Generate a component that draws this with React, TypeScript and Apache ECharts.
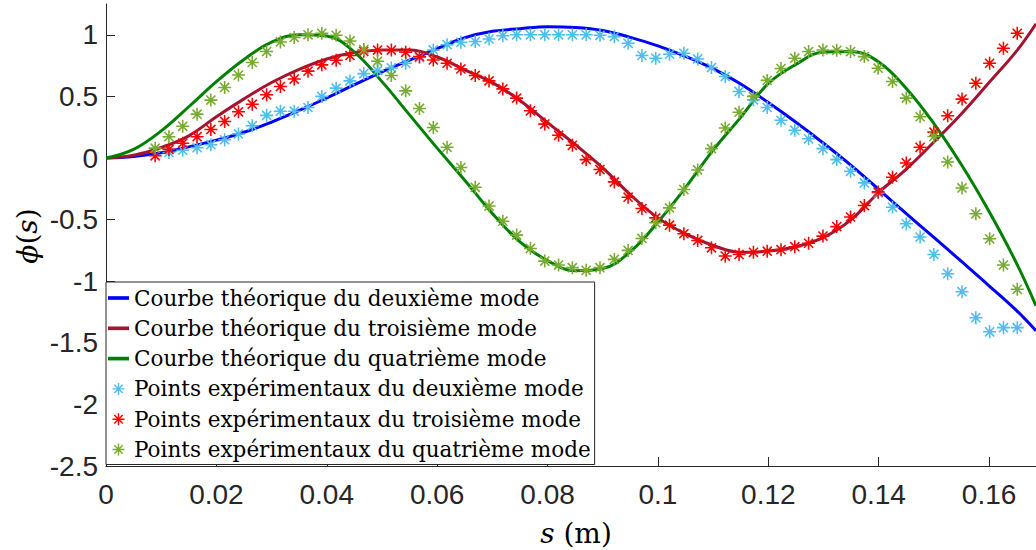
import { useEffect, useRef } from "react";
import * as echarts from "echarts";

const S_THEORY = [
  0, 0.005, 0.01, 0.015, 0.02, 0.025, 0.03, 0.035, 0.04, 0.045, 0.05, 0.055, 0.06, 0.065, 0.07, 0.075,
  0.08, 0.085, 0.09, 0.095, 0.1, 0.105, 0.11, 0.115, 0.12, 0.125, 0.13, 0.135, 0.14, 0.145, 0.15, 0.155,
  0.16, 0.165, 0.1685,
];
const PHI_MODE2 = [
  0, 0.012, 0.042, 0.09, 0.145, 0.209, 0.292, 0.386, 0.487, 0.595, 0.7, 0.794, 0.888, 0.976, 1.028, 1.05,
  1.066, 1.06, 1.035, 0.979, 0.91, 0.825, 0.725, 0.6, 0.45, 0.29, 0.12, -0.06, -0.255, -0.452, -0.645, -0.84,
  -1.037, -1.239, -1.403,
];
const PHI_MODE3 = [
  0, 0.022, 0.085, 0.18, 0.335, 0.48, 0.613, 0.72, 0.804, 0.856, 0.877, 0.877, 0.82, 0.716, 0.612, 0.467,
  0.287, 0.11, -0.08, -0.298, -0.486, -0.616, -0.71, -0.765, -0.755, -0.72, -0.645, -0.5, -0.28, -0.09, 0.13,
  0.36, 0.613, 0.87, 1.09,
];
const PHI_MODE4 = [
  0, 0.07, 0.22, 0.416, 0.62, 0.8, 0.94, 1.0, 0.99, 0.86, 0.62, 0.35, 0.08, -0.18, -0.45, -0.68, -0.833,
  -0.915, -0.897, -0.76, -0.52, -0.24, 0.064, 0.33, 0.605, 0.76, 0.86, 0.865, 0.78, 0.565, 0.28, -0.055,
  -0.435, -0.857, -1.2,
];

// Experimental points: measurement abscissae (m) and measured values
const S_EXP = [
  0.0089, 0.0114, 0.0139, 0.0165, 0.019, 0.0215, 0.024, 0.0265, 0.0291, 0.0316, 0.0341, 0.0366, 0.0391,
  0.0417, 0.0442, 0.0467, 0.0492, 0.0517, 0.0543, 0.0568, 0.0593, 0.0618, 0.0643, 0.0669, 0.0694, 0.0719,
  0.0744, 0.0769, 0.0795, 0.082, 0.0845, 0.087, 0.0895, 0.0921, 0.0946, 0.0971, 0.0996, 0.1021, 0.1047,
  0.1072, 0.1097, 0.1122, 0.1147, 0.1173, 0.1198, 0.1223, 0.1248, 0.1273, 0.1299, 0.1324, 0.1349, 0.1374,
  0.1399, 0.1425, 0.145, 0.1475, 0.15, 0.1525, 0.1551, 0.1576, 0.1601, 0.1626, 0.1651,
];
const EXP_MODE2 = [
  null, 0.045, 0.063, 0.084, 0.108, 0.148, 0.195, 0.262, 0.346, 0.38, 0.38, 0.41, 0.5, 0.567, 0.626, 0.685,
  0.71, 0.731, 0.769, 0.815, 0.877, 0.92, 0.939, 0.945, 0.966, 0.993, 1.0, 1.0, 1.0, 1.0, 1.0, 1.0, 0.996,
  0.985, 0.931, 0.832, 0.81, 0.842, 0.85, 0.804, 0.734, 0.661, 0.54, 0.472, 0.41, 0.306, 0.226, 0.156, 0.076,
  -0.013, -0.108, -0.202, -0.283, -0.4, -0.534, -0.642, -0.783, -0.939, -1.085, -1.296, -1.411, -1.377, -1.377,
];
const EXP_MODE3 = [
  0.018, 0.07, 0.12, 0.173, 0.232, 0.297, 0.375, 0.437, 0.513, 0.58, 0.641, 0.705, 0.756, 0.794, 0.832, 0.866,
  0.876, 0.876, 0.858, 0.823, 0.796, 0.769, 0.723, 0.67, 0.626, 0.561, 0.486, 0.383, 0.275, 0.184, 0.103,
  -0.013, -0.094, -0.194, -0.318, -0.41, -0.486, -0.545, -0.615, -0.669, -0.729, -0.796, -0.783, -0.766,
  -0.756, -0.744, -0.72, -0.692, -0.634, -0.557, -0.479, -0.386, -0.275, -0.156, -0.04, 0.087, 0.21, 0.343,
  0.478, 0.607, 0.769, 0.891, 1.012,
];
const EXP_MODE4 = [
  0.08, 0.173, 0.257, 0.356, 0.47, 0.573, 0.673, 0.775, 0.864, 0.942, 0.978, 1.0, 1.012, 0.996, 0.95, 0.88,
  0.785, 0.67, 0.545, 0.402, 0.248, 0.087, -0.077, -0.238, -0.39, -0.513, -0.626, -0.734, -0.837, -0.869,
  -0.89, -0.912, -0.89, -0.823, -0.75, -0.653, -0.526, -0.405, -0.256, -0.097, 0.076, 0.243, 0.372, 0.5, 0.63,
  0.726, 0.81, 0.864, 0.877, 0.874, 0.864, 0.823, 0.729, 0.621, 0.486, 0.335, 0.175, -0.032, -0.243, -0.453,
  -0.656, -0.869, -1.066,
];

const X_TICKS = [0, 0.02, 0.04, 0.06, 0.08, 0.1, 0.12, 0.14, 0.16];
const Y_TICKS = [-2.5, -2, -1.5, -1, -0.5, 0, 0.5, 1];

const NAMES = [
  "Courbe théorique du deuxième mode",
  "Courbe théorique du troisième mode",
  "Courbe théorique du quatrième mode",
  "Points expérimentaux du deuxième mode",
  "Points expérimentaux du troisième mode",
  "Points expérimentaux du quatrième mode",
];
const LINE_COLORS = ["#0000FF", "#A2142F", "#008000"];
const POINT_COLORS = ["#4DBEEE", "#FF0000", "#77AC30"];

const ASTERISK =
  "path://M-0.12,-1L0.12,-1L0.12,1L-0.12,1Z M-1,-0.12L1,-0.12L1,0.12L-1,0.12Z " +
  "M-0.615,-0.785L0.785,0.615L0.615,0.785L-0.785,-0.615Z M-0.785,0.615L0.615,-0.785L0.785,-0.615L-0.615,0.785Z";
const LINE_ICON = "path://M0,0L23,0L23,4L0,4Z";

const AXIS_COLOR = "#262626";

function pairs(xs: number[], ys: (number | null)[]) {
  const out: [number, number][] = [];
  xs.forEach((x, i) => {
    const y = ys[i];
    if (y !== null && y !== undefined) out.push([x, y]);
  });
  return out;
}

export default function App() {
  const ref = useRef<HTMLDivElement>(null);
  useEffect(() => {
    if (!ref.current) return;
    const chart = echarts.init(ref.current, undefined, { renderer: "svg" });
    const theory = [PHI_MODE2, PHI_MODE3, PHI_MODE4];
    const exp = [EXP_MODE2, EXP_MODE3, EXP_MODE4];
    const series: any[] = [];
    theory.forEach((ys, i) => {
      series.push({
        name: NAMES[i],
        type: "line",
        data: pairs(S_THEORY, ys),
        smooth: 0.4,
        symbol: "none",
        showSymbol: false,
        lineStyle: { width: 3, color: LINE_COLORS[i] },
        itemStyle: { color: LINE_COLORS[i] },
        z: 2,
      });
    });
    exp.forEach((ys, i) => {
      series.push({
        name: NAMES[i + 3],
        type: "scatter",
        data: pairs(S_EXP, ys),
        symbol: ASTERISK,
        symbolSize: 13,
        itemStyle: { color: POINT_COLORS[i], opacity: 1 },
        z: 3,
      });
    });
    const fmt = (v: number) => String(Number(v.toFixed(3)));
    const legendData = NAMES.map((name, i) =>
      i < 3
        ? { name, icon: LINE_ICON, itemStyle: { color: LINE_COLORS[i] } }
        : { name, icon: ASTERISK, itemStyle: { color: POINT_COLORS[i - 3] } }
    );
    chart.setOption({
      animation: false,
      backgroundColor: "#ffffff",
      grid: { left: 106, right: 0, top: 4, bottom: 84, containLabel: false },
      xAxis: {
        type: "value",
        min: 0,
        max: 0.1685,
        interval: 0.02,
        splitLine: { show: false },
        axisLine: { show: true, onZero: false, lineStyle: { color: AXIS_COLOR, width: 1 } },
        axisTick: {
          show: true,
          inside: true,
          length: 9,
          customValues: X_TICKS,
          lineStyle: { color: AXIS_COLOR, width: 1 },
        },
        axisLabel: {
          customValues: X_TICKS,
          formatter: fmt,
          fontFamily: "Liberation Sans",
          fontSize: 28,
          color: AXIS_COLOR,
          margin: 14,
        },
      },
      yAxis: {
        type: "value",
        min: -2.5,
        max: 1.25,
        interval: 0.5,
        splitLine: { show: false },
        axisLine: { show: true, onZero: false, lineStyle: { color: AXIS_COLOR, width: 1 } },
        axisTick: {
          show: true,
          inside: true,
          length: 9,
          customValues: Y_TICKS,
          lineStyle: { color: AXIS_COLOR, width: 1 },
        },
        axisLabel: {
          customValues: Y_TICKS,
          formatter: fmt,
          fontFamily: "Liberation Sans",
          fontSize: 28,
          color: AXIS_COLOR,
          margin: 8,
        },
      },
      legend: {
        orient: "vertical",
        left: 106,
        top: 282,
        padding: [5, 4, 4, 2],
        itemGap: 8.3,
        itemWidth: 21,
        itemHeight: 12,
        backgroundColor: "#ffffff",
        borderColor: AXIS_COLOR,
        borderWidth: 1,
        borderRadius: 0,
        textStyle: { fontFamily: "DejaVu Serif", fontSize: 21.5, color: "#000000", lineHeight: 22 },
        data: legendData,
      },
      graphic: [
        {
          type: "text",
          x: 576,
          y: 533,
          style: {
            text: "{i|s} (m)",
            align: "center",
            verticalAlign: "middle",
            fill: "#000",
            font: "28px 'DejaVu Serif'",
            rich: {
              i: { fontFamily: "DejaVu Serif", fontStyle: "italic", fontSize: 28, fill: "#000" },
            },
          },
        },
        {
          type: "text",
          x: 27,
          y: 236,
          rotation: Math.PI / 2,
          style: {
            text: "{i|ϕ}({i|s})",
            align: "center",
            verticalAlign: "middle",
            fill: "#000",
            font: "28px 'DejaVu Serif'",
            rich: {
              i: { fontFamily: "DejaVu Serif", fontStyle: "italic", fontSize: 28, fill: "#000" },
            },
          },
        },
      ],
      series,
    });
    return () => chart.dispose();
  }, []);
  return (
    <div
      ref={ref}
      style={{ position: "absolute", left: 0, top: 0, width: 1036, height: 550, background: "#fff" }}
    />
  );
}
